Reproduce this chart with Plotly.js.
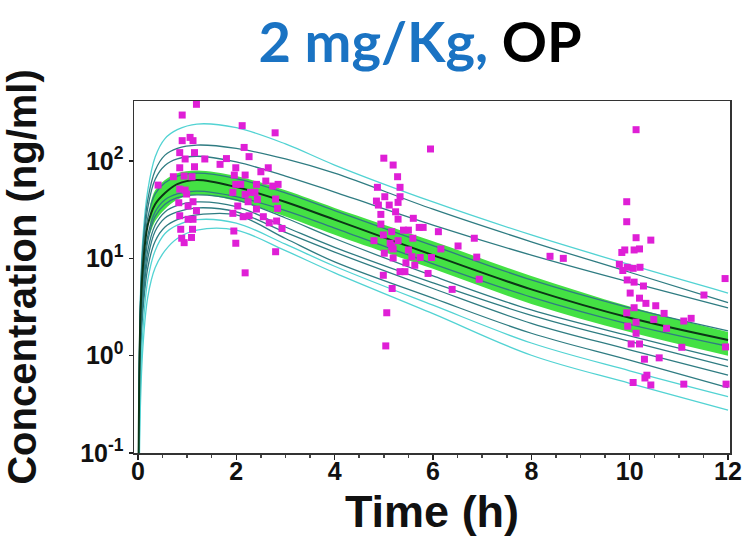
<!DOCTYPE html>
<html>
<head>
<meta charset="utf-8">
<script src="https://cdn.plot.ly/plotly-3.0.1.min.js"></script>
<style>
  html, body { margin: 0; padding: 0; background: #fff; }
  #chart { width: 746px; height: 538px; }
</style>
</head>
<body>
<div id="chart"></div>
<script>
// Simulation time grid (h) for the individual predicted profiles
var simTime = [0.01, 0.05, 0.1, 0.2, 0.35, 0.55, 0.8, 1.2, 2, 3, 4, 6, 8, 10, 12];

// Individual predicted concentration profiles (ng/ml)
var profA = [0.06, 4, 16, 50, 110, 170, 210, 240, 220, 150, 91, 38, 17.4, 8.6, 4.4];
var profB = [0.05, 3.5, 13, 40, 80, 115, 135, 146, 135, 105, 75, 32, 14.8, 7.2, 3.5];
var profC = [0.05, 3, 11, 33, 65, 90, 105, 112, 98, 70, 48, 22, 10.8, 5.7, 3.1];
var profD = [0.04, 2.8, 9, 26, 46, 60, 70, 75, 66, 47, 31, 13.5, 6.0, 3.1, 1.8];
var profE = [0.03, 1.8, 6, 17, 30, 40, 46, 49, 43, 31, 20.5, 8.8, 4.0, 2.1, 1.25];
var profF = [0.03, 1.5, 5, 15, 27, 36, 42, 45, 40, 26, 16, 6.6, 2.95, 1.6, 0.9];
var profG = [0.03, 1.2, 4, 12, 22, 30, 35, 38, 34, 21, 13, 5.6, 2.6, 1.4, 0.77];
var profH = [0.02, 1, 3.5, 10, 19, 26, 30, 33, 30, 18.5, 11.6, 4.9, 2.15, 1.15, 0.63];
var profI = [0.02, 0.8, 2.8, 8, 15, 21, 25, 28, 28, 16, 9.2, 3.9, 1.7, 0.9, 0.47];
var profJ = [0.015, 0.5, 1.8, 6, 12, 18, 22, 25, 23, 14, 8.3, 3.3, 1.35, 0.7, 0.38];
var profK = [0.01, 0.3, 1.2, 4, 8, 12, 16, 19.5, 19.5, 12, 7.1, 2.7, 1.01, 0.52, 0.276];

// Population median profile
var medianConc = [0.04, 2.5, 8, 22, 36, 47, 58, 64, 54, 38, 25, 10.8, 4.8, 2.45, 1.45];

// Prediction band around the median
var bandTime = [0.25, 0.35, 0.55, 0.8, 1.2, 2, 3, 4, 6, 8, 10, 12];
var bandUpper = [36, 50, 64, 75, 80, 70, 50, 33, 15, 6.6, 3.2, 1.75];
var bandLower = [18, 24, 32, 40, 45, 39, 27, 17.5, 7.8, 3.4, 1.75, 1.0];

// Observed concentrations
var obsTime = [
  1.19, 0.90, 2.12, 2.79, 0.90, 1.06, 1.12, 2.16, 0.85, 1.15,
  2.26, 0.96, 1.36, 1.80, 1.67, 1.99, 0.85, 1.15, 2.65, 2.50,
  1.96, 2.18, 0.72, 0.94, 1.10, 2.60, 0.41, 1.99, 2.09, 2.41,
  2.74, 2.85, 0.85, 0.96, 1.93, 2.18, 2.29, 2.38, 0.99, 2.80,
  2.24, 2.43, 1.12, 0.83, 1.02, 2.03, 2.84, 1.19, 2.41, 1.93,
  2.14, 2.26, 2.55, 0.85, 1.02, 1.12, 2.67, 2.82, 2.93, 0.87,
  1.11, 1.95, 0.89, 1.09, 0.94, 1.99, 2.80, 2.18,
  5.95, 5.00, 5.19, 5.28, 5.33, 4.87, 5.02, 5.33, 4.85, 4.89,
  5.11, 5.29, 5.24, 4.94, 4.94, 5.29, 5.60, 5.72, 5.80, 5.16,
  5.40, 5.50, 6.11, 4.99, 4.80, 5.59, 6.84, 5.29, 5.13, 5.16,
  6.51, 6.16, 5.01, 5.19, 5.50, 5.19, 5.57, 5.74, 5.97, 6.89,
  5.45, 5.63, 4.99, 5.33, 5.43, 5.90, 6.94, 5.17, 6.39, 5.06,
  5.04,
  10.13, 9.94, 9.94, 10.13, 10.43, 8.38, 8.65, 9.84, 9.90, 10.09,
  10.20, 9.79, 9.95, 10.07, 10.21, 9.86,
  11.94, 9.95, 10.09, 10.28, 11.51, 10.01, 10.20, 10.33, 10.53, 10.09,
  9.94, 10.70, 10.49, 11.10, 11.25, 10.13, 9.96, 10.75, 10.13, 10.03,
  10.20, 11.06, 11.95, 10.60, 10.30, 10.35, 10.31, 10.07, 10.43, 11.10,
  11.96
];
var obsConc = [
  383, 297, 231, 195, 162, 175, 162, 138, 122, 122,
  111, 105, 105, 106, 92.5, 85.3, 85.3, 87.4, 85.3, 77.6,
  71.8, 71.8, 69.0, 70.1, 69.0, 62.3, 56.6, 57.6, 57.6, 57.6,
  55.3, 57.6, 51.5, 50.3, 47.7, 45.5, 47.7, 47.7, 45.8, 40.7,
  38.2, 40.4, 38.2, 37.3, 34.5, 34.5, 32.6, 30.9, 32.1, 29.0,
  26.8, 27.4, 26.8, 27.4, 25.2, 25.2, 23.2, 24.2, 20.3, 19.9,
  19.9, 19.1, 16.1, 16.4, 14.5, 14.3, 11.7, 7.1,
  133, 107, 91, 69, 53.7, 53.7, 43.0, 43.0, 38.8, 35.3,
  35.3, 37.6, 30.1, 28.3, 22.5, 25.3, 25.8, 20.8, 20.8, 18.8,
  19.5, 19.5, 18.8, 17.4, 15.2, 16.1, 16.1, 15.2, 14.3, 13.2,
  13.4, 12.5, 11.3, 12.5, 12.2, 10.1, 10.4, 10.2, 10.2, 10.3,
  9.0, 8.5, 6.7, 7.3, 7.3, 7.0, 6.1, 4.9, 4.8, 2.76,
  1.26,
  210, 38.2, 23.8, 16.3, 15.4, 10.5, 10.0, 11.5, 12.2, 12.2,
  12.5, 8.7, 8.1, 7.9, 8.1, 7.5,
  6.2, 6.0, 5.7, 5.2, 4.2, 4.4, 3.9, 3.45, 3.26, 3.11,
  2.76, 2.72, 2.36, 2.27, 2.42, 2.21, 2.01, 1.91, 1.70, 1.32,
  1.32, 1.22, 1.23, 0.95, 0.92, 0.63, 0.59, 0.53, 0.50, 0.51,
  0.51
];

var xTicks = [0, 2, 4, 6, 8, 10, 12];
var yTickVals = [0.1, 1, 10, 100];
var yTickText = ['10<sup>-1</sup>', '10<sup>0</sup>', '10<sup>1</sup>', '10<sup>2</sup>'];

var CYAN = '#52d3d3';
var TEAL = '#2f7c82';

var profiles = [
  [profA, CYAN], [profB, TEAL], [profC, TEAL], [profD, TEAL], [profE, TEAL],
  [profF, TEAL], [profG, TEAL], [profH, TEAL], [profI, TEAL], [profJ, CYAN], [profK, CYAN]
];

var traces = [];

// prediction band
traces.push({
  x: bandTime, y: bandLower, type: 'scatter', mode: 'lines',
  line: { width: 0, shape: 'spline', smoothing: 1 }, hoverinfo: 'skip', showlegend: false
});
traces.push({
  x: bandTime, y: bandUpper, type: 'scatter', mode: 'lines', fill: 'tonexty',
  fillcolor: '#44e144', line: { width: 0, shape: 'spline', smoothing: 1 },
  hoverinfo: 'skip', showlegend: false
});

profiles.forEach(function (p) {
  traces.push({
    x: simTime, y: p[0], type: 'scatter', mode: 'lines',
    line: { color: p[1], width: 1.3, shape: 'spline', smoothing: 1 },
    showlegend: false
  });
});

traces.push({
  x: simTime, y: medianConc, type: 'scatter', mode: 'lines',
  line: { color: '#0b3516', width: 2, shape: 'spline', smoothing: 1 },
  showlegend: false
});

traces.push({
  x: obsTime, y: obsConc, type: 'scatter', mode: 'markers',
  marker: { symbol: 'square', size: 7, color: '#df1fd6' },
  showlegend: false
});

var sans = 'Liberation Sans, Arial, sans-serif';
var axisFont = { family: sans, size: 25, color: '#111', weight: 'bold' };

var layout = {
  width: 746, height: 538,
  margin: { l: 134, r: 16, t: 101, b: 85 },
  paper_bgcolor: '#fff', plot_bgcolor: '#fff',
  title: {
    text: "<span style='color:#1a73c3'>2 mg/Kg,</span> OP",
    font: { family: 'Lato, Open Sans, sans-serif', size: 56, color: '#000', weight: 'bold' },
    xref: 'paper', x: 0.48, xanchor: 'center',
    yref: 'container', y: 0.922, yanchor: 'middle'
  },
  xaxis: {
    range: [-0.08, 12.04],
    tickvals: xTicks,
    ticks: 'outside', ticklen: 5, tickwidth: 1.5, tickcolor: '#222',
    ticklabelstandoff: -10,
    minor: { dtick: 0.5, ticks: 'outside', ticklen: 3, tickcolor: '#444', showgrid: false },
    showline: true, linecolor: '#333', linewidth: 1.5, mirror: true,
    showgrid: false, zeroline: false,
    tickfont: axisFont,
    title: { text: 'Time (h)', font: { family: sans, size: 45, color: '#111', weight: 'bold' }, standoff: 12 }
  },
  yaxis: {
    type: 'log',
    range: [-1, 2.617],
    tickvals: yTickVals, ticktext: yTickText,
    ticks: 'outside', ticklen: 4, tickwidth: 1.5, tickcolor: '#222',
    showline: true, linecolor: '#333', linewidth: 1.5, mirror: true,
    showgrid: false, zeroline: false,
    tickfont: axisFont,
    title: { text: 'Concentration (ng/ml)', font: { family: sans, size: 40, color: '#111', weight: 'bold' }, standoff: 31 }
  }
};

Plotly.newPlot('chart', traces, layout, { displayModeBar: false, staticPlot: true });
</script>
</body>
</html>
